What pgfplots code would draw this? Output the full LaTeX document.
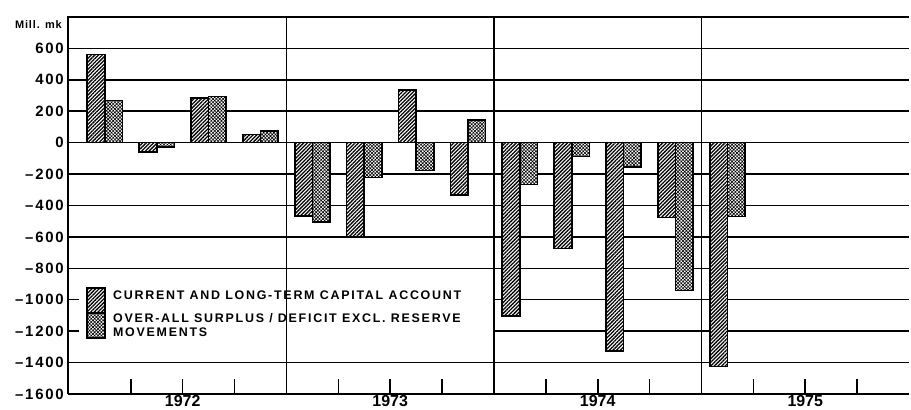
\documentclass[border=0pt]{standalone}
\usepackage{pgfplots}
\pgfplotsset{compat=1.18}
\usetikzlibrary{patterns.meta}
\usepackage{fontspec}
\setmainfont{Liberation Sans}
\newfontfamily\tickfont[LetterSpace=12]{Liberation Sans}
\newfontfamily\legfont[LetterSpace=14]{Liberation Sans}
\newfontfamily\millfont[LetterSpace=8]{Liberation Sans}
\begin{document}
\begin{tikzpicture}
\begin{axis}[
  width=841bp, height=377bp, scale only axis,
  xmin=-0.21, xmax=16, ymin=-1600, ymax=800,
  axis line style={draw=none},
  ybar, bar width=0.34,
  xtick={2,6,10,14},
  xticklabels={1972,1973,1974,1975},
  ytick={-1600,-1400,-1200,-1000,-800,-600,-400,-200,0,200,400,600},
  yticklabels={–1600,–1400,–1200,–1000,–800,–600,–400,–200,0,200,400,600},
  major tick length=0pt,
  yticklabel style={font=\tickfont\bfseries\fontsize{15}{15}\selectfont, anchor=east, inner sep=0pt, xshift=-4bp},
  xticklabel style={font=\bfseries\fontsize{16}{16}\selectfont, anchor=north, inner sep=0pt, yshift=-1.5bp},
  clip=false,
]
% grid lines
\foreach \v in {600,400,200,0,-200,-400,-600,-800,-1400}{
  \edef\tmp{\noexpand\draw[line width=1.5bp] (axis cs:-0.21,\v) -- (axis cs:16,\v);}\tmp
}
\foreach \v in {-1000,-1200}{
  \edef\tmp{\noexpand\draw[line width=1.5bp] (axis cs:8,\v) -- (axis cs:16,\v);}\tmp
  \edef\tmp{\noexpand\draw[line width=1.5bp] (axis cs:-0.21,\v) -- (axis cs:0,\v);}\tmp
}
% bars
\addplot[bar shift=0pt, draw=black, line width=1.6bp, fill=white,
  postaction={pattern={Lines[angle=45,distance=2.6pt,line width=1.3pt]}}]
  coordinates {(0.33,562) (1.33,-60) (2.33,283) (3.33,51) (4.33,-468) (5.33,-600) (6.33,334) (7.33,-334) (8.33,-1105) (9.33,-673) (10.33,-1328) (11.33,-477) (12.33,-1426)};
\addplot[bar shift=0pt, draw=black, line width=1.6bp, fill=white,
  postaction={pattern={Hatch[angle=45,distance=2.4pt,line width=0.6pt]}}]
  coordinates {(0.67,268) (1.67,-28) (2.67,294) (3.67,74) (4.67,-505) (5.67,-223) (6.67,-177) (7.67,143) (8.67,-266) (9.67,-88) (10.67,-156) (11.67,-941) (12.67,-470)};
% frame and dividers
\draw[line width=1.8bp] (axis cs:-0.21,-1600) -- (axis cs:-0.21,800) -- (axis cs:16,800);
\draw[line width=1.8bp] (axis cs:-0.21,-1600) -- (axis cs:16,-1600);
\foreach \q in {4,8,12}{
  \edef\tmp{\noexpand\draw[line width=1.6bp] (axis cs:\q,-1600) -- (axis cs:\q,800);}\tmp
}
\foreach \q in {1,2,3,5,6,7,9,10,11,13,14,15}{
  \edef\tmp{\noexpand\draw[line width=1.6bp] (axis cs:\q,-1600) -- (axis cs:\q,-1505);}\tmp
}
% legend
\draw[line width=1.4bp, fill=white, postaction={pattern={Lines[angle=45,distance=2.6pt,line width=1.3pt]}}]
  (axis cs:0.154,-925) rectangle (axis cs:0.50,-1084);
\draw[line width=1.4bp, fill=white, postaction={pattern={Hatch[angle=45,distance=2.4pt,line width=0.6pt]}}]
  (axis cs:0.154,-1084) rectangle (axis cs:0.50,-1244);
\node[anchor=base west, inner sep=0pt, font=\legfont\bfseries\fontsize{12.5}{12.5}\selectfont] at (axis cs:0.655,-997) {CURRENT AND LONG-TERM CAPITAL ACCOUNT};
\node[anchor=base west, inner sep=0pt, font=\legfont\bfseries\fontsize{12.5}{12.5}\selectfont] at (axis cs:0.655,-1148) {OVER-ALL SURPLUS / DEFICIT EXCL. RESERVE};
\node[anchor=base west, inner sep=0pt, font=\legfont\bfseries\fontsize{12.5}{12.5}\selectfont] at (axis cs:0.655,-1237) {MOVEMENTS};
\node[anchor=east, inner sep=0pt, font=\millfont\bfseries\fontsize{11}{11}\selectfont] at (axis cs:-0.21,755) [xshift=-6bp] {Mill. mk};
\end{axis}
\pgfresetboundingbox
\useasboundingbox ([shift={(-68bp,-16bp)}]current axis.south west) rectangle ([shift={(2bp,17bp)}]current axis.north east);
\end{tikzpicture}
\end{document}
